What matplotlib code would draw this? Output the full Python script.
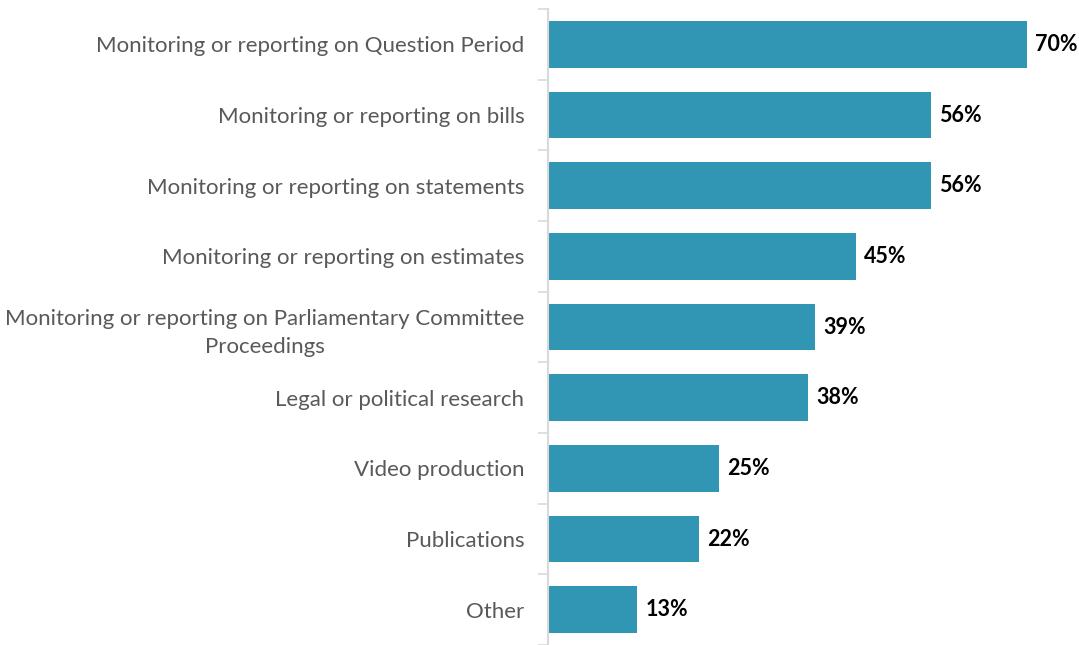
import matplotlib
matplotlib.use("Agg")
import matplotlib.pyplot as plt

categories = [
    "Monitoring or reporting on Question Period",
    "Monitoring or reporting on bills",
    "Monitoring or reporting on statements",
    "Monitoring or reporting on estimates",
    "Monitoring or reporting on Parliamentary Committee\nProceedings",
    "Legal or political research",
    "Video production",
    "Publications",
    "Other",
]
values = [70, 56, 56, 45, 39, 38, 25, 22, 13]

bar_color = "#3196B4"
label_color = "#595959"
axis_color = "#D9D9D9"

plt.rcParams["font.family"] = ["Lato", "DejaVu Sans"]

fig = plt.figure(figsize=(10.79, 6.45), dpi=100)
ax = fig.add_axes([548 / 1079, 0, 531 / 1079, 636 / 645])

n = len(categories)
ypos = list(range(n))
ax.barh(ypos, values, height=0.66, color=bar_color, zorder=2)

for y, v in zip(ypos, values):
    ax.text(v + 1.2, y, f"{v}%", va="center", ha="left",
            fontsize=15.5, fontweight="bold", color="black")

ax.set_ylim(n - 0.5, -0.5)
ax.set_xlim(0, 77.6)

ax.set_yticks(ypos)
ax.set_yticklabels(categories, fontsize=16, color=label_color,
                   multialignment="center", linespacing=1.5)
ax.tick_params(axis="y", length=0, pad=17)
ax.set_yticks([i - 0.5 for i in range(n + 1)], minor=True)
ax.tick_params(axis="y", which="minor", length=7, width=1.2, color=axis_color)

ax.set_xticks([])
for side in ("top", "right", "bottom"):
    ax.spines[side].set_visible(False)
ax.spines["left"].set_color(axis_color)
ax.spines["left"].set_linewidth(1.5)

fig.savefig("out.png", dpi=100)
